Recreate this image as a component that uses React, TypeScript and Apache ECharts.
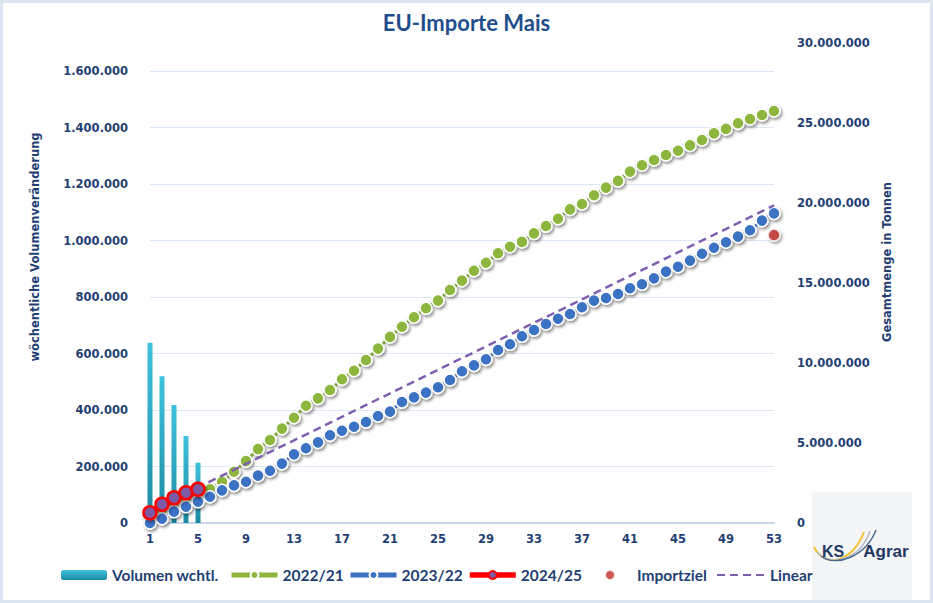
import React, { useEffect, useRef } from "react";
import * as echarts from "echarts";

const weeks: string[] = Array.from({ length: 53 }, (_, i) => String(i + 1));

const volumenWchtl: number[] = [638000, 520000, 418000, 308000, 214000];

const s2022: number[] = [
  450000, 850000, 1250000, 1550000, 1850000, 2100000, 2580000, 3200000, 3870000, 4620000,
  5190000, 5900000, 6580000, 7330000, 7790000, 8310000, 8980000, 9520000, 10190000, 10900000,
  11630000, 12270000, 12860000, 13420000, 13900000, 14560000, 15150000, 15770000, 16270000, 16860000,
  17270000, 17570000, 18100000, 18560000, 19020000, 19600000, 19940000, 20480000, 20960000, 21380000,
  21960000, 22360000, 22690000, 23000000, 23270000, 23600000, 23940000, 24350000, 24630000, 24980000,
  25250000, 25500000, 25750000,
];

const s2023: number[] = [
  0, 270000, 710000, 1020000, 1330000, 1640000, 2040000, 2350000, 2580000, 2960000,
  3270000, 3710000, 4290000, 4670000, 5040000, 5480000, 5770000, 6020000, 6310000, 6690000,
  6960000, 7560000, 7850000, 8150000, 8480000, 8940000, 9480000, 9850000, 10230000, 10810000,
  11170000, 11670000, 12060000, 12440000, 12770000, 13060000, 13480000, 13900000, 14060000, 14310000,
  14670000, 14920000, 15290000, 15710000, 16020000, 16400000, 16830000, 17200000, 17550000, 17900000,
  18300000, 18900000, 19350000,
];

const s2024: number[] = [640000, 1170000, 1580000, 1890000, 2110000];

const importzielWeek = "53";
const importzielValue = 18000000;

const linearWeeks: string[] = ["1", "53"];
const linearValues: number[] = [760000, 19850000];

const leftTicks = { min: 0, max: 1700000, interval: 200000 };
const rightTicks = { min: 0, max: 30000000, interval: 5000000 };

const NAVY = "#1f3f74";
const LABEL_FONT = "DejaVu Sans";

const fmt = (v: number) =>
  Math.round(v)
    .toString()
    .replace(/\B(?=(\d{3})+(?!\d))/g, ".");

const markerShadow = {
  shadowColor: "rgba(0,0,0,0.45)",
  shadowBlur: 3,
  shadowOffsetX: 1.5,
  shadowOffsetY: 2,
};

export default function App() {
  const ref = useRef<HTMLDivElement>(null);

  useEffect(() => {
    if (!ref.current) return;
    const chart = echarts.init(ref.current, null, { renderer: "svg" });

    const legendText = {
      color: NAVY,
      fontFamily: "Lato",
      fontWeight: "bold" as const,
      fontSize: 15.5,
    };
    const mkLegend = (name: string, left: number, w: number, extra: any = {}) => ({
      data: [name],
      left,
      top: 567,
      itemWidth: w,
      itemHeight: 10,
      padding: 0,
      textStyle: legendText,
      selectedMode: false,
      ...extra,
    });

    const splitColors = Array.from({ length: 9 }, () => "#dde8f6").concat(["rgba(0,0,0,0)"]);

    chart.setOption({
      animation: false,
      backgroundColor: "#ffffff",
      title: {
        text: "EU-Importe Mais",
        left: "center",
        top: 6,
        textStyle: {
          fontFamily: "Lato",
          fontSize: 22,
          fontWeight: "bold",
          color: "#1f4e8c",
        },
      },
      grid: { left: 150, right: 159, top: 43, bottom: 80, containLabel: false },
      legend: [
        mkLegend("Volumen wchtl.", 61, 46),
        mkLegend("2022/21", 229, 46, { lineStyle: { width: 5 } }),
        mkLegend("2023/22", 348, 46, { lineStyle: { width: 5 } }),
        mkLegend("2024/25", 467, 46, { lineStyle: { width: 5.5 } }),
        mkLegend("Importziel", 604, 12, {
          textStyle: { ...legendText, padding: [0, 0, 0, 16] },
        }),
        mkLegend("Linear", 716, 48, {
          itemStyle: { opacity: 0, borderWidth: 0 },
          lineStyle: { opacity: 1 },
        }),
      ],
      xAxis: {
        type: "category",
        data: weeks,
        boundaryGap: false,
        axisLine: { lineStyle: { color: "#c9d7e8", width: 2 } },
        axisTick: { show: false },
        axisLabel: {
          interval: 3,
          margin: 10,
          color: NAVY,
          fontFamily: LABEL_FONT,
          fontWeight: "bold",
          fontSize: 11.5,
        },
        splitLine: { show: false },
      },
      yAxis: [
        {
          type: "value",
          position: "left",
          min: leftTicks.min,
          max: leftTicks.max,
          interval: leftTicks.interval,
          axisLine: { show: false },
          axisTick: { show: false },
          axisLabel: {
            formatter: fmt,
            margin: 22,
            showMaxLabel: false,
            color: NAVY,
            fontFamily: LABEL_FONT,
            fontWeight: "bold",
            fontSize: 11.5,
          },
          splitLine: { show: true, lineStyle: { color: splitColors, width: 1 } },
        },
        {
          type: "value",
          position: "right",
          min: rightTicks.min,
          max: rightTicks.max,
          interval: rightTicks.interval,
          axisLine: { show: false },
          axisTick: { show: false },
          axisLabel: {
            formatter: fmt,
            margin: 23,
            color: NAVY,
            fontFamily: LABEL_FONT,
            fontWeight: "bold",
            fontSize: 11.5,
          },
          splitLine: { show: false },
        },
      ],
      series: [
        {
          name: "Volumen wchtl.",
          type: "bar",
          yAxisIndex: 0,
          data: volumenWchtl,
          barWidth: 5,
          z: 1,
          itemStyle: {
            color: new echarts.graphic.LinearGradient(0, 0, 0, 1, [
              { offset: 0, color: "#3ec2de" },
              { offset: 1, color: "#1c8aa2" },
            ]),
          },
        },
        {
          name: "2022/21",
          type: "line",
          yAxisIndex: 1,
          data: s2022,
          z: 2,
          symbol: "circle",
          symbolSize: 12,
          showAllSymbol: true,
          lineStyle: { color: "#8cb63c", width: 3 },
          itemStyle: { color: "#8cb63c", borderColor: "#ffffff", borderWidth: 1.5, ...markerShadow },
        },
        {
          name: "2023/22",
          type: "line",
          yAxisIndex: 1,
          data: s2023,
          z: 3,
          symbol: "circle",
          symbolSize: 12,
          showAllSymbol: true,
          lineStyle: { color: "#3b70c2", width: 3 },
          itemStyle: { color: "#3a72c4", borderColor: "#ffffff", borderWidth: 1.5, ...markerShadow },
        },
        {
          name: "Linear",
          type: "line",
          yAxisIndex: 1,
          data: linearWeeks.map((w, i) => [w, linearValues[i]]),
          z: 4,
          symbol: "none",
          lineStyle: { color: "#7f5fb0", width: 2.5, type: [8, 5] },
          itemStyle: { color: "#7f5fb0" },
        },
        {
          name: "2024/25",
          type: "line",
          yAxisIndex: 1,
          data: s2024,
          z: 5,
          symbol: "circle",
          symbolSize: 13,
          showAllSymbol: true,
          lineStyle: { color: "#ff0000", width: 4.5 },
          itemStyle: { color: "#7d5aa6", borderColor: "#ff0000", borderWidth: 2.5, ...markerShadow },
        },
        {
          name: "Importziel",
          type: "scatter",
          yAxisIndex: 1,
          data: [[importzielWeek, importzielValue]],
          z: 6,
          symbol: "circle",
          symbolSize: 12,
          itemStyle: { color: "#c0302a", borderColor: "#ffffff", borderWidth: 1.5, ...markerShadow },
        },
      ],
      graphic: [
        {
          type: "rect",
          shape: { x: 1.5, y: 1.5, width: 930, height: 600 },
          style: { fill: "none", stroke: "#dce6f2", lineWidth: 3 },
          silent: true,
        },
        {
          type: "text",
          x: 35,
          y: 247,
          rotation: Math.PI / 2,
          style: {
            text: "wöchentliche Volumenveränderung",
            fill: NAVY,
            font: `bold 11.5px "${LABEL_FONT}"`,
            textAlign: "center",
            textVerticalAlign: "middle",
            align: "center",
            verticalAlign: "middle",
          },
        },
        {
          type: "text",
          x: 887,
          y: 262,
          rotation: Math.PI / 2,
          style: {
            text: "Gesamtmenge in Tonnen",
            fill: NAVY,
            font: `bold 11.5px "${LABEL_FONT}"`,
            textAlign: "center",
            textVerticalAlign: "middle",
            align: "center",
            verticalAlign: "middle",
          },
        },
        {
          type: "group",
          children: [
            {
              type: "rect",
              shape: { x: 812, y: 492, width: 100, height: 108 },
              style: { fill: "#f4f5f7" },
            },
            {
              type: "bezierCurve",
              shape: { x1: 814, y1: 547, cpx1: 824, cpy1: 568, cpx2: 852, cpy2: 564, x2: 864, y2: 532 },
              style: { stroke: "#f2c230", lineWidth: 2, fill: "none" },
            },
            {
              type: "bezierCurve",
              shape: { x1: 817, y1: 552, cpx1: 830, cpy1: 568, cpx2: 860, cpy2: 560, x2: 870, y2: 531 },
              style: { stroke: "#b8bcc4", lineWidth: 1.6, fill: "none" },
            },
            {
              type: "bezierCurve",
              shape: { x1: 821, y1: 556, cpx1: 836, cpy1: 568, cpx2: 866, cpy2: 556, x2: 876, y2: 530 },
              style: { stroke: "#4a6890", lineWidth: 1.4, fill: "none" },
            },
            {
              type: "text",
              x: 833,
              y: 551,
              style: {
                text: "KS",
                fill: "#1f3864",
                font: 'bold 16px "Liberation Sans"',
                textAlign: "center",
                textVerticalAlign: "middle",
                align: "center",
                verticalAlign: "middle",
              },
            },
            {
              type: "text",
              x: 886,
              y: 551,
              style: {
                text: "Agrar",
                fill: "#1f3864",
                font: 'bold 17px "Liberation Sans"',
                textAlign: "center",
                textVerticalAlign: "middle",
                align: "center",
                verticalAlign: "middle",
              },
            },
          ],
        },
      ],
    });

    return () => chart.dispose();
  }, []);

  return (
    <div
      ref={ref}
      style={{ position: "absolute", left: 0, top: 0, width: 933, height: 603, background: "#fff" }}
    />
  );
}
